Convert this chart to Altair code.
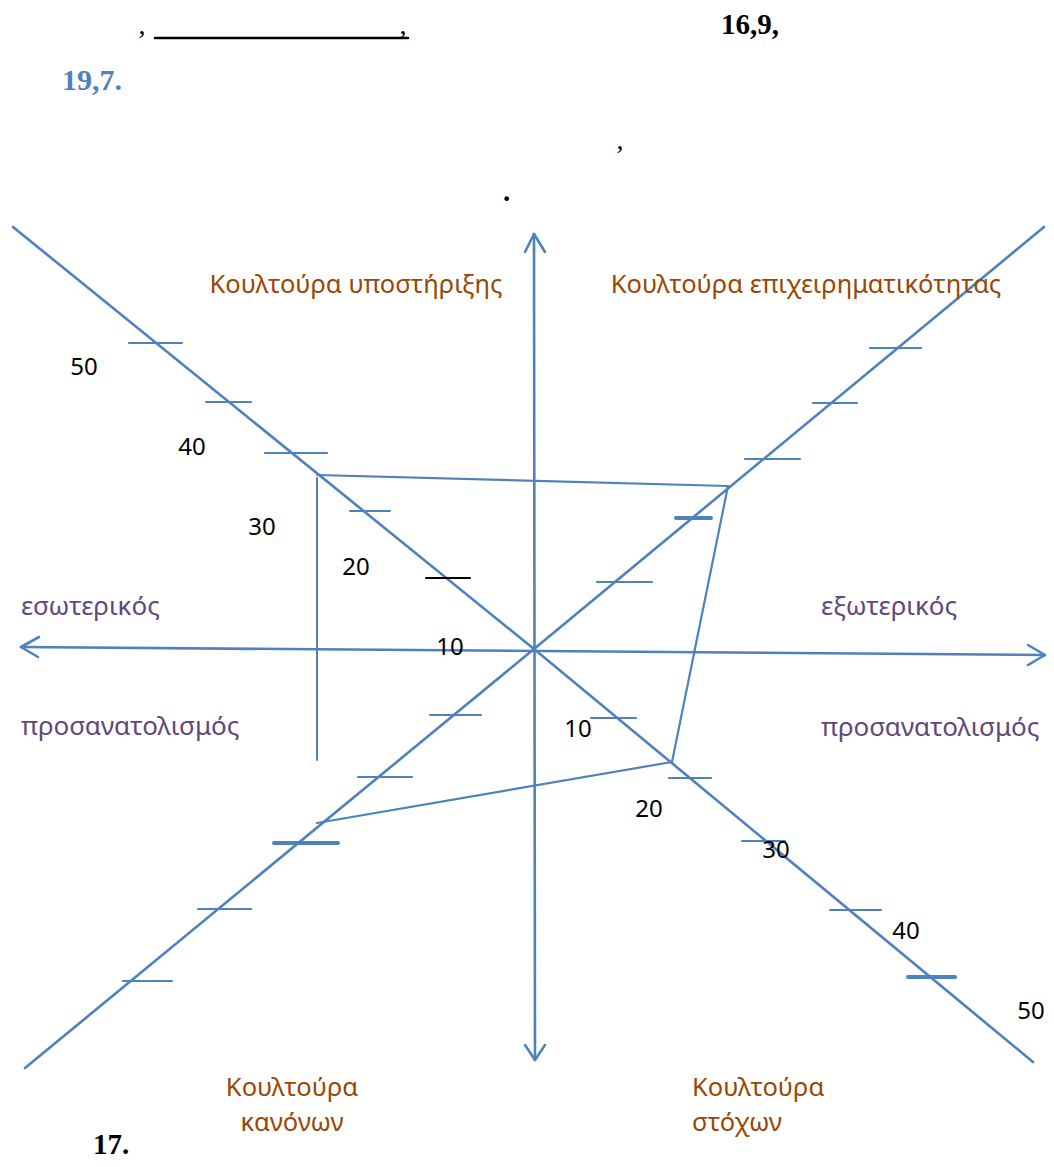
import altair as alt
import pandas as pd

# ---------------- data (diagram coordinates, y grows downward) ----------------
BLUE = "#4F81BD"

# main axes (start x, start y, end x, end y)
axis_x1 = [21, 534, 13, 534, 1044, 534]
axis_y1 = [647, 234, 227, 649, 227, 649]
axis_x2 = [1045, 535, 534, 1033, 534, 25]
axis_y2 = [655, 1060, 649, 1062, 649, 1068]

# arrow heads (tip -> wing)
arrow_tip_x = [21, 21, 1045, 1045, 534, 534, 535, 535]
arrow_tip_y = [647, 647, 655, 655, 234, 234, 1060, 1060]
arrow_wing_x = [39, 38, 1028, 1028, 525, 545, 525, 545]
arrow_wing_y = [637, 657, 645, 665, 252, 252, 1045, 1045]

# tick marks on the four culture axes (left x, right x, y, style)
tick_left = [129, 206, 265, 350, 426,
             597, 676, 745, 813, 870,
             430, 358, 274, 198, 123,
             591, 669, 742, 830, 908]
tick_right = [182, 251, 327, 390, 470,
              652, 711, 800, 857, 921,
              481, 412, 338, 251, 172,
              636, 711, 785, 881, 955]
tick_y = [343, 402, 453, 511, 578,
          582, 518, 459, 403, 348,
          715, 777, 843, 909, 981,
          718, 778, 841, 910, 977]
tick_style = ["thin", "thin", "thin", "thin", "black",
              "thin", "bold", "thin", "thin", "thin",
              "thin", "thin", "bold", "thin", "thin",
              "thin", "thin", "thin", "thin", "bold"]

# culture profile (support, entrepreneurship, goals, rules)
profile_x = [317, 728, 672, 317]
profile_y = [475, 486, 762, 823]
# extra vertical stroke under the support corner
drop_x = [317, 317]
drop_y = [478, 760]

# scale numbers
num_text = ["50", "40", "30", "20", "10", "10", "20", "30", "40", "50"]
num_x = [84, 192, 262, 356, 450, 578, 649, 776, 906, 1031]
num_y = [375, 455, 535, 575, 655, 737, 817, 858, 939, 1019]

# culture labels (brown)
cult_text = ["Κουλτούρα υποστήριξης", "Κουλτούρα επιχειρηματικότητας",
             "Κουλτούρα", "κανόνων", "Κουλτούρα", "στόχων"]
cult_x = [356, 806, 292, 292, 692, 692]
cult_y = [293, 293, 1096, 1131, 1096, 1131]
cult_align = ["center", "center", "center", "center", "left", "left"]

# orientation labels (purple)
orient_text = ["εσωτερικός", "προσανατολισμός", "εξωτερικός", "προσανατολισμός"]
orient_x = [21, 21, 821, 821]
orient_y = [615, 735, 615, 736]

# page text above and below the figure
top_text = [",", ",", "16,9,", ",", ".", "17."]
top_x = [142, 403, 721, 620, 503, 93]
top_y = [34, 34, 34, 149, 201, 1154]
top_weight = ["normal", "normal", "bold", "normal", "bold", "bold"]
blue_text = ["19,7."]
blue_x = [62]
blue_y = [90]
underline_x = [155, 408]
underline_y = [38, 38]

# ---------------- build tables ----------------
segs = []
for a, b, c, d in zip(axis_x1, axis_y1, axis_x2, axis_y2):
    segs.append(dict(x=a, y=b, x2=c, y2=d, col=BLUE, w=2.6))
for a, b, c, d in zip(arrow_tip_x, arrow_tip_y, arrow_wing_x, arrow_wing_y):
    segs.append(dict(x=a, y=b, x2=c, y2=d, col=BLUE, w=2.6))
style_map = {"thin": (BLUE, 2.2), "bold": (BLUE, 4.0), "black": ("#000000", 2.0)}
for l, r, y, s in zip(tick_left, tick_right, tick_y, tick_style):
    c, w = style_map[s]
    segs.append(dict(x=l, y=y, x2=r, y2=y, col=c, w=w))
n = len(profile_x)
for i in range(n - 1):
    segs.append(dict(x=profile_x[i], y=profile_y[i], x2=profile_x[i + 1],
                     y2=profile_y[i + 1], col=BLUE, w=2.2))
segs.append(dict(x=drop_x[0], y=drop_y[0], x2=drop_x[1], y2=drop_y[1], col=BLUE, w=2.0))
segs.append(dict(x=underline_x[0], y=underline_y[0], x2=underline_x[1],
                 y2=underline_y[1], col="#000000", w=2.5))
seg_df = pd.DataFrame(segs)

XS = alt.Scale(domain=[8, 1046], zero=False, nice=False)
YS = alt.Scale(domain=[8, 1159], zero=False, nice=False, reverse=True)

def X(f="x"):
    return alt.X(f"{f}:Q", scale=XS, axis=None)

def Y(f="y"):
    return alt.Y(f"{f}:Q", scale=YS, axis=None)

rules = alt.Chart(seg_df).mark_rule(strokeCap="round").encode(
    x=X(), y=Y(), x2="x2:Q", y2="y2:Q",
    color=alt.Color("col:N", scale=None),
    strokeWidth=alt.StrokeWidth("w:Q", scale=None),
)

num_df = pd.DataFrame(dict(t=num_text, x=num_x, y=num_y))
nums = alt.Chart(num_df).mark_text(
    font="Noto Sans", fontSize=24, color="#000000", align="center", baseline="alphabetic"
).encode(x=X(), y=Y(), text="t:N")

cult_df = pd.DataFrame(dict(t=cult_text, x=cult_x, y=cult_y, a=cult_align))
cult_c = alt.Chart(cult_df[cult_df.a == "center"]).mark_text(
    font="Noto Sans", fontSize=25.5, color="#984806", align="center", baseline="alphabetic"
).encode(x=X(), y=Y(), text="t:N")
cult_l = alt.Chart(cult_df[cult_df.a == "left"]).mark_text(
    font="Noto Sans", fontSize=25.5, color="#984806", align="left", baseline="alphabetic"
).encode(x=X(), y=Y(), text="t:N")

orient_df = pd.DataFrame(dict(t=orient_text, x=orient_x, y=orient_y))
orient = alt.Chart(orient_df).mark_text(
    font="Noto Sans", fontSize=26, color="#5F497A", align="left", baseline="alphabetic"
).encode(x=X(), y=Y(), text="t:N")

top_df = pd.DataFrame(dict(t=top_text, x=top_x, y=top_y, w=top_weight))
top_norm = alt.Chart(top_df[top_df.w == "normal"]).mark_text(
    font="Liberation Serif", fontSize=28, color="#000000", align="center", baseline="alphabetic"
).encode(x=X(), y=Y(), text="t:N")
top_bold = alt.Chart(top_df[top_df.w == "bold"]).mark_text(
    font="Liberation Serif", fontSize=29, fontWeight="bold", color="#000000",
    align="left", baseline="alphabetic"
).encode(x=X(), y=Y(), text="t:N")

blue_df = pd.DataFrame(dict(t=blue_text, x=blue_x, y=blue_y))
blue = alt.Chart(blue_df).mark_text(
    font="Liberation Serif", fontSize=30, fontWeight="bold", color=BLUE,
    align="left", baseline="alphabetic"
).encode(x=X(), y=Y(), text="t:N")

chart = alt.layer(rules, nums, cult_c, cult_l, orient, top_norm, top_bold, blue).properties(
    width=1038, height=1151, padding=0, autosize=alt.AutoSizeParams(type="none"),
    background="white"
).configure_view(stroke=None)

chart.save("out.html", embed_options={"renderer": "svg", "actions": False})
